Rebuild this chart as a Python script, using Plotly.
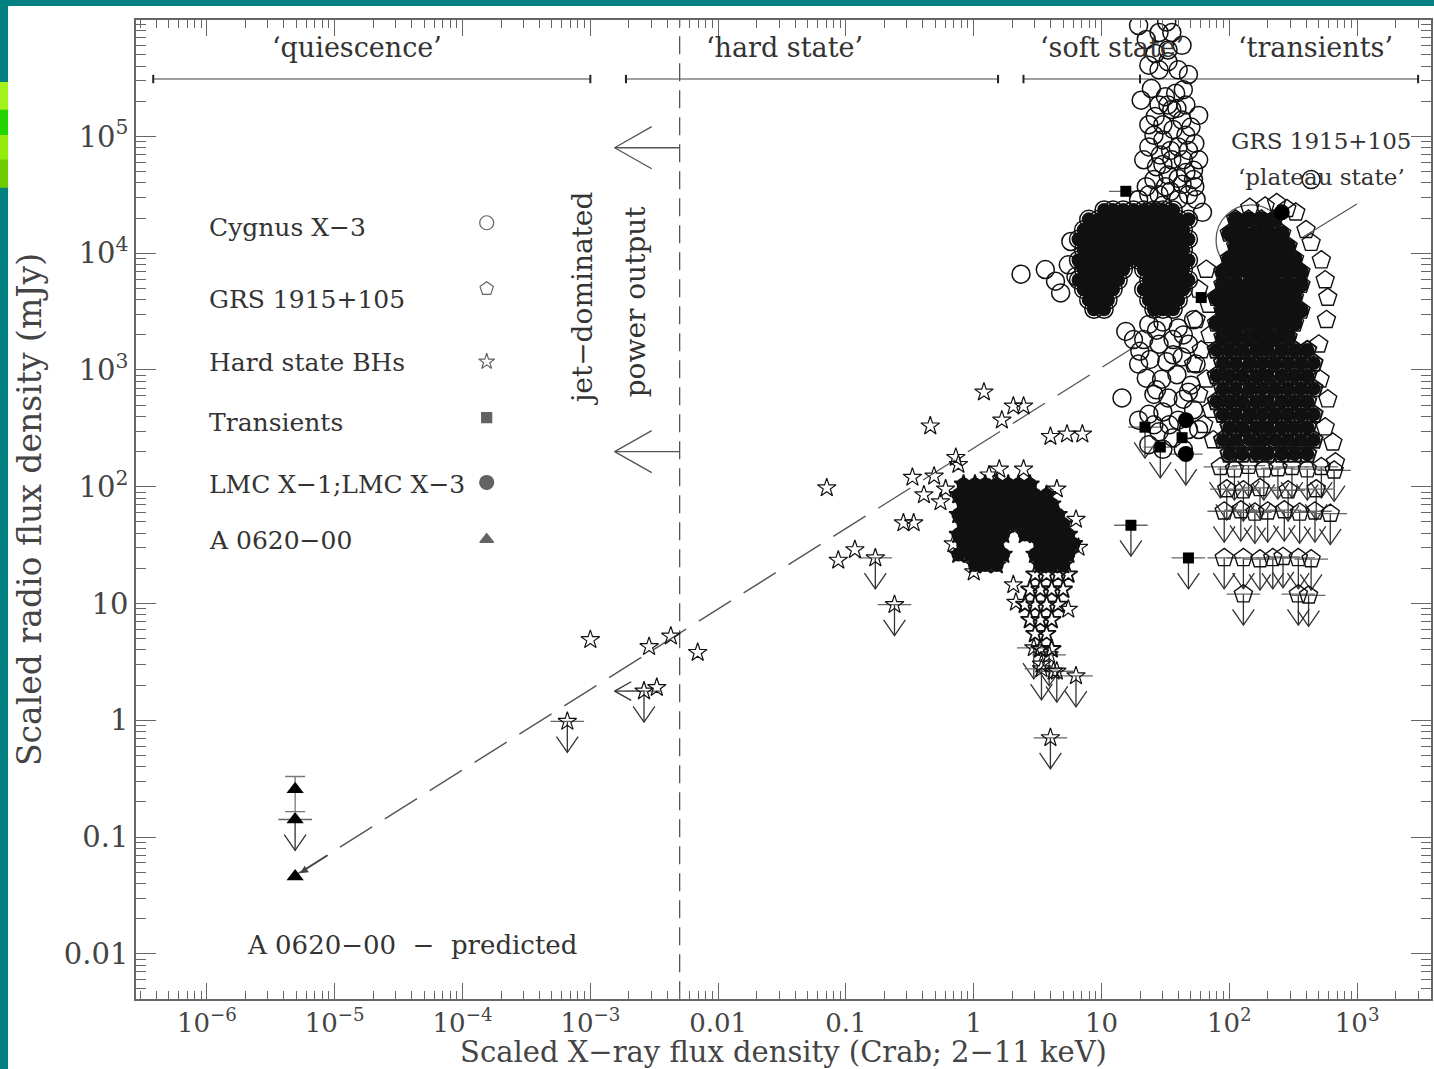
import numpy as np
import plotly.graph_objects as go

# ------------------------------------------------------------------
# DATA  (values stored as log10: X-ray flux [Crab], radio flux [mJy])
# ------------------------------------------------------------------
x_tick_vals = [1e-6, 1e-5, 1e-4, 1e-3, 0.01, 0.1, 1, 10, 100, 1000]
x_tick_text = ["10<sup>−6</sup>", "10<sup>−5</sup>", "10<sup>−4</sup>", "10<sup>−3</sup>",
               "0.01", "0.1", "1", "10", "10<sup>2</sup>", "10<sup>3</sup>"]
y_tick_vals = [0.01, 0.1, 1, 10, 100, 1e3, 1e4, 1e5, 1e6]
y_tick_text = ["0.01", "0.1", "1", "10", "10<sup>2</sup>", "10<sup>3</sup>",
               "10<sup>4</sup>", "10<sup>5</sup>", "10<sup>6</sup>"]

regime_names = ["‘quiescence’", "‘hard state’", "‘soft state’", "‘transients’"]
regime_lo = [3.8e-7, 1.9e-3, 2.45, 20.0]
regime_hi = [1.0e-3, 1.55, 20.0, 3000.0]
regime_level = 3.1e5
jet_boundary_x = 5e-3                    # vertical dashed line
jet_arrow_tip_x = 1.55e-3
jet_arrow_levels = [8.0e4, 2.0e2]

corr_x = [4.9e-6, 19.5]                  # L_radio ~ L_X^0.7 line
corr_y = [0.047, 1660.0]

# Cygnus X-3 (open circles): sparse points
cyg_sparse = [
    (0.37, 3.82), (0.56, 3.86), (0.64, 3.76), (0.68, 3.66), (1.19, 3.33), (1.16, 2.76),
    (1.30, 3.16), (1.25, 3.26), (2.64, 4.63), (0.74, 3.90), (0.76, 4.10), (0.80, 3.80),
    (1.29, 5.95), (1.51, 5.98), (1.45, 5.89), (1.55, 5.89), (1.42, 5.71), (1.52, 5.74),
    (1.45, 5.57), (1.60, 5.57), (1.39, 5.41), (1.50, 5.34), (1.58, 5.37), (1.64, 5.40),
    (1.45, 5.27), (1.52, 5.27), (1.59, 5.24), (1.42, 5.17), (1.55, 5.23), (1.63, 5.14),
    (1.48, 5.10), (1.37, 5.10), (1.70, 5.08), (1.56, 5.06), (1.48, 4.97), (1.37, 4.91),
    (1.60, 4.91), (1.73, 4.94), (1.68, 4.88), (1.46, 4.84), (1.55, 4.80), (1.64, 4.80),
    (1.43, 4.74), (1.52, 4.67), (1.66, 4.69), (1.72, 4.71), (1.41, 4.63), (1.63, 4.59),
    (1.35, 4.57), (1.50, 4.57), (1.73, 4.57), (1.45, 4.50), (1.68, 4.50), (1.60, 4.46),
    (1.79, 4.35),
    (1.35, 5.83), (1.63, 5.78), (1.37, 5.61), (1.52, 5.64), (1.68, 5.53), (1.31, 5.31),
    (1.66, 5.27), (1.76, 5.18), (1.41, 5.01), (1.66, 5.01), (1.54, 4.88), (1.33, 4.80),
    (1.76, 4.80), (1.48, 4.76), (1.60, 4.64), (1.72, 4.63), (1.37, 4.50), (1.54, 4.53),
    (1.74, 4.46), (1.48, 4.41), (1.29, 4.46),
    (1.37, 3.39), (1.48, 3.41), (1.60, 3.36), (1.72, 3.43), (1.33, 3.26), (1.45, 3.22),
    (1.56, 3.26), (1.68, 3.22), (1.38, 3.09), (1.51, 3.07), (1.63, 3.11), (1.74, 3.05),
    (1.35, 2.93), (1.47, 2.92), (1.59, 2.96), (1.70, 2.87), (1.41, 2.79), (1.52, 2.76),
    (1.64, 2.75), (1.37, 2.62), (1.48, 2.64), (1.60, 2.57), (1.72, 2.66), (1.45, 2.47),
    (1.56, 2.42), (1.68, 2.49), (1.37, 2.36), (1.48, 2.32),
    (1.43, 3.34), (1.64, 3.30), (1.29, 3.05), (1.56, 3.13), (1.43, 2.83), (1.68, 2.81),
    (1.53, 2.53), (1.41, 2.53), (1.64, 2.32), (1.76, 2.49), (1.29, 2.57),
]
# Cygnus X-3 dense 'hook' (log radio : list of log X-ray)
cyg_core_rows = {
    4.37: [1.02, 1.09, 1.17, 1.25, 1.33, 1.41, 1.48, 1.56],
    4.29: [0.90, 0.98, 1.05, 1.13, 1.21, 1.29, 1.37, 1.45, 1.52, 1.60, 1.68],
    4.20: [0.86, 0.94, 1.02, 1.09, 1.17, 1.25, 1.33, 1.41, 1.48, 1.56, 1.64],
    4.12: [0.82, 0.90, 0.98, 1.05, 1.13, 1.21, 1.29, 1.37, 1.45, 1.52, 1.60, 1.68],
    4.03: [0.86, 0.94, 1.02, 1.09, 1.17, 1.25, 1.33, 1.41, 1.48, 1.56, 1.64],
    3.94: [0.82, 0.90, 0.98, 1.05, 1.13, 1.21, 1.29, 1.37, 1.45, 1.52, 1.60, 1.68],
    3.86: [0.86, 0.94, 1.02, 1.09, 1.17, 1.33, 1.41, 1.48, 1.56, 1.64],
    3.77: [0.82, 0.90, 0.98, 1.05, 1.13, 1.37, 1.45, 1.52, 1.60, 1.68],
    3.69: [0.86, 0.94, 1.02, 1.09, 1.33, 1.41, 1.48, 1.56, 1.64],
    3.60: [0.90, 0.98, 1.05, 1.37, 1.45, 1.52, 1.60],
    3.52: [0.94, 1.02, 1.41, 1.48, 1.56],
}

# GRS 1915+105 (open pentagons)
grs_sparse = [
    (2.16, 4.39), (2.37, 4.43), (2.52, 4.35), (2.64, 4.09), (2.72, 3.94), (2.75, 3.77),
    (2.77, 3.62), (2.76, 3.43), (2.70, 3.22), (2.71, 2.92), (2.77, 2.75), (2.75, 2.51),
    (2.81, 2.38), (2.83, 2.21), (2.60, 4.20), (2.28, 4.40), (2.45, 4.38),
    (1.76, 3.69), (1.84, 3.56), (1.74, 3.43), (1.85, 3.30), (1.78, 3.17), (1.72, 3.05),
    (1.82, 2.92), (1.76, 2.79), (1.86, 2.66), (1.80, 2.53), (1.875, 2.40), (1.82, 3.86),
]
grs_core_rows = {
    4.29: [2.05, 2.15, 2.25, 2.35],
    4.17: [2.00, 2.10, 2.21, 2.30, 2.41],
    4.06: [2.05, 2.16, 2.26, 2.36, 2.46],
    3.95: [2.00, 2.10, 2.21, 2.30, 2.41, 2.51],
    3.84: [1.95, 2.05, 2.16, 2.26, 2.36, 2.46, 2.56],
    3.73: [1.95, 2.05, 2.16, 2.26, 2.36, 2.46, 2.56],
    3.62: [1.90, 2.00, 2.10, 2.21, 2.30, 2.41, 2.51],
    3.51: [1.95, 2.05, 2.16, 2.26, 2.36, 2.46, 2.56],
    3.40: [1.90, 2.00, 2.10, 2.21, 2.30, 2.41, 2.51],
    3.28: [1.95, 2.05, 2.16, 2.26, 2.36, 2.46],
}
grs_lower_rows = {
    3.17: [1.90, 2.00, 2.10, 2.21, 2.30, 2.41, 2.51, 2.61],
    3.06: [1.95, 2.05, 2.16, 2.26, 2.36, 2.46, 2.56, 2.66],
    2.95: [1.90, 2.00, 2.10, 2.21, 2.30, 2.41, 2.51, 2.61],
    2.84: [1.95, 2.05, 2.16, 2.26, 2.36, 2.46, 2.56, 2.66],
    2.73: [1.90, 2.00, 2.10, 2.21, 2.30, 2.41, 2.51, 2.61],
    2.62: [1.95, 2.05, 2.16, 2.26, 2.36, 2.46, 2.56, 2.66],
    2.51: [2.00, 2.10, 2.21, 2.30, 2.41, 2.51, 2.61],
    2.40: [1.95, 2.05, 2.16, 2.26, 2.36, 2.46, 2.56, 2.66],
    2.28: [2.00, 2.10, 2.21, 2.30, 2.41, 2.51, 2.61],
}
grs_upper = [
    (1.93, 2.17), (2.04, 2.15), (2.15, 2.18), (2.27, 2.15), (2.38, 2.16), (2.49, 2.17),
    (2.61, 2.15), (2.72, 2.17), (2.82, 2.14),
    (1.98, 1.98), (2.11, 1.97), (2.24, 1.99), (2.46, 1.97), (2.68, 1.98),
    (1.96, 1.79), (2.09, 1.80), (2.20, 1.78), (2.30, 1.79), (2.43, 1.80), (2.55, 1.78),
    (2.67, 1.79), (2.79, 1.77),
    (1.96, 1.39), (2.11, 1.39), (2.24, 1.38), (2.34, 1.39), (2.42, 1.40), (2.54, 1.39),
    (2.64, 1.38),
    (2.11, 1.08), (2.54, 1.08), (2.62, 1.07),
]

# Hard state black holes (open stars)
hard_sparse = [
    (-3.00, 0.69), (-2.54, 0.63), (-2.37, 0.72), (-2.16, 0.58), (-2.48, 0.28),
    (-1.15, 1.99), (-1.06, 1.37), (-0.93, 1.46),
    (-0.34, 2.52), (0.08, 2.81), (0.22, 2.57), (0.31, 2.69), (0.39, 2.69), (0.60, 2.43),
    (0.73, 2.45), (0.85, 2.45),
    (-0.48, 2.08), (-0.31, 2.09), (-0.26, 1.87), (-0.12, 2.19), (-0.55, 1.69), (-0.47, 1.69),
    (-0.14, 2.25), (-0.22, 1.98), (-0.39, 1.93),
    (0.39, 2.15), (0.65, 1.98), (0.80, 1.72), (0.82, 1.48), (-0.16, 1.51), (0.00, 1.27),
    (0.33, 1.01), (0.31, 1.16), (0.74, 0.95), (0.53, 0.48), (0.625, 0.42), (0.12, 2.10),
    (0.20, 2.15),
]
gx339_core_rows = {
    2.02: [-0.08, 0.01, 0.09, 0.18, 0.27, 0.35, 0.44],
    1.93: [-0.12, -0.03, 0.05, 0.14, 0.23, 0.31, 0.40, 0.48, 0.57],
    1.85: [-0.08, 0.01, 0.09, 0.18, 0.27, 0.35, 0.44, 0.52, 0.61],
    1.76: [-0.12, -0.03, 0.05, 0.14, 0.23, 0.31, 0.40, 0.48, 0.57, 0.66],
    1.68: [-0.08, 0.01, 0.09, 0.18, 0.27, 0.35, 0.44, 0.52, 0.61, 0.70],
    1.59: [-0.12, -0.03, 0.05, 0.14, 0.23, 0.40, 0.48, 0.57, 0.66, 0.74],
    1.51: [-0.08, 0.01, 0.09, 0.18, 0.52, 0.61, 0.70, 0.78],
    1.42: [-0.12, -0.03, 0.05, 0.14, 0.23, 0.48, 0.57, 0.66, 0.74],
    1.33: [0.01, 0.09, 0.18, 0.52, 0.61, 0.70],
}
gx339_tail_rows = {
    1.25: [0.48, 0.57, 0.66, 0.74],
    1.12: [0.44, 0.52, 0.61, 0.70],
    0.99: [0.40, 0.48, 0.57, 0.66],
    0.86: [0.44, 0.52, 0.61],
    0.74: [0.48, 0.57],
    0.61: [0.52, 0.61],
}
hard_upper = [(-3.18, -0.01), (-2.58, 0.25), (-0.77, 1.39), (-0.62, 0.99), (0.80, 0.38),
              (0.60, -0.15), (0.47, 0.62), (0.59, 0.56), (0.53, 0.44), (0.65, 0.42)]
hard_left_limit = [(-2.58, 0.25)]

# Transients (filled squares)
trans_det = [(1.19, 4.53), (1.78, 3.62), (1.63, 2.42)]
trans_upper = [(1.34, 2.51), (1.46, 2.34), (1.23, 1.67), (1.68, 1.39)]

# LMC X-1 ; LMC X-3 (filled circles)
lmc_det = [(1.66, 2.57), (2.41, 4.35)]
lmc_upper = [(1.66, 2.28)]

# A 0620-00 (filled triangles)
a0620_x = [4.9e-6]
a0620_y = [0.257]
a0620_y_hi = [0.33]
a0620_y_lo = [0.165]
a0620_upper = [(-5.31, -0.85)]
a0620_predicted_x = [4.9e-6]
a0620_predicted_y = [0.046]

# GRS 1915+105 'plateau state' marker
plateau_x = [148.0]
plateau_y = [1.3e4]

legend_names = ["Cygnus X−3", "GRS 1915+105", "Hard state BHs", "Transients",
                "LMC X−1;LMC X−3", "A 0620−00"]
legend_symbols = ["circle-open", "pentagon-open", "star-open", "square", "circle", "triangle-up"]
legend_sizes = [14, 14, 12, 10, 14, 12]

# ------------------------------------------------------------------
INK = "#111111"
GREY = "#555555"
TXT = "#333333"
FONT = "DejaVu Serif"


def unzip(points):
    return [p[0] for p in points], [p[1] for p in points]


def rows(rowdict):
    xs, ys = [], []
    for ly, lxs in rowdict.items():
        for lx in lxs:
            xs.append(lx)
            ys.append(ly)
    return xs, ys


def lin(seq):
    return [None if v is None else 10 ** v for v in seq]


STEM, HEAD_DX, HEAD_DY = 0.265, 0.085, 0.135


def ul_paths(points):
    xs, ys = [], []
    for lx, ly in points:
        tip = ly - STEM
        xs += [lx, lx, None, lx - HEAD_DX, lx, lx + HEAD_DX, None]
        ys += [ly, tip, None, tip + HEAD_DY, tip, tip + HEAD_DY, None]
    return xs, ys


def left_arrow_paths(points, length, hdx, hdy):
    xs, ys = [], []
    for lx, ly in points:
        tip = lx - length
        xs += [lx, tip, None, tip + hdx, tip, tip + hdx, None]
        ys += [ly, ly, None, ly + hdy, ly, ly - hdy, None]
    return xs, ys


def saturated(xs, ys, size):
    # overlap saturation of a dense cloud: same points, solid ink
    return go.Scatter(x=lin(xs), y=lin(ys), mode="markers", hoverinfo="skip",
                      marker=dict(symbol="circle", size=size, color=INK, line=dict(width=0)))


fig = go.Figure()

for lo, hi in zip(regime_lo, regime_hi):
    fig.add_trace(go.Scatter(x=[lo, hi], y=[regime_level, regime_level], mode="lines+markers",
                             line=dict(color="#a0a0a0", width=2),
                             marker=dict(symbol="line-ns", size=6, line=dict(color="#222", width=2)),
                             hoverinfo="skip"))

fig.add_trace(go.Scatter(x=[jet_boundary_x, jet_boundary_x], y=[10 ** -2.39, 10 ** 6.0],
                         mode="lines", line=dict(color=GREY, width=1.3, dash="18px,9px"),
                         hoverinfo="skip"))

jx, jy = [], []
tipL = np.log10(jet_arrow_tip_x)
bx = np.log10(jet_boundary_x)
for lev in jet_arrow_levels:
    ly = np.log10(lev)
    jx += [bx, tipL, None, tipL + 0.29, tipL, tipL + 0.29, None]
    jy += [ly, ly, None, ly + 0.18, ly, ly - 0.18, None]
fig.add_trace(go.Scatter(x=lin(jx), y=lin(jy), mode="lines",
                         line=dict(color=GREY, width=1.4), hoverinfo="skip"))

fig.add_trace(go.Scatter(x=corr_x, y=corr_y, mode="lines",
                         line=dict(color=GREY, width=1.4, dash="38px,15px"), hoverinfo="skip"))

all_ul = grs_upper + hard_upper + trans_upper + lmc_upper + a0620_upper
ux, uy = ul_paths(all_ul)
lx_, ly_ = left_arrow_paths(hard_left_limit, 0.23, 0.13, 0.08)
fig.add_trace(go.Scatter(x=lin(ux + lx_), y=lin(uy + ly_), mode="lines",
                         line=dict(color="#333", width=1.3), hoverinfo="skip"))
cbx, cby = unzip(all_ul + [trans_det[0]])
fig.add_trace(go.Scatter(x=lin(cbx), y=lin(cby), mode="markers",
                         marker=dict(symbol="line-ew", size=24, line=dict(color="#666", width=1.3)),
                         hoverinfo="skip"))

fig.add_trace(go.Scatter(x=plateau_x, y=plateau_y, mode="markers",
                         marker=dict(symbol="circle-open", size=70, color=GREY,
                                     line=dict(color=GREY, width=1.3)), hoverinfo="skip"))

# Cygnus X-3
cx1, cy1 = unzip(cyg_sparse)
cx2, cy2 = rows(cyg_core_rows)
fig.add_trace(saturated(cx2, cy2, 14))
fig.add_trace(go.Scatter(x=lin(cx1 + cx2), y=lin(cy1 + cy2), mode="markers",
                         marker=dict(symbol="circle-open", size=18, color=INK,
                                     line=dict(color=INK, width=1.5)), hoverinfo="skip"))

# GRS 1915+105
gx1, gy1 = unzip(grs_sparse)
gx2, gy2 = rows(grs_core_rows)
gx4, gy4 = rows(grs_lower_rows)
gx3, gy3 = unzip(grs_upper)
fig.add_trace(saturated(gx2, gy2, 16))
fig.add_trace(saturated(gx4, gy4, 14))
fig.add_trace(go.Scatter(x=lin(gx1 + gx2 + gx4 + gx3), y=lin(gy1 + gy2 + gy4 + gy3),
                         mode="markers",
                         marker=dict(symbol="pentagon-open", size=19, color=INK,
                                     line=dict(color=INK,
                                               width=[1.4] * len(gx1) + [1.4] * len(gx2)
                                               + [1.9] * len(gx4) + [1.4] * len(gx3))),
                         hoverinfo="skip"))

# Hard state BHs
hx1, hy1 = unzip(hard_sparse)
hx2, hy2 = rows(gx339_core_rows)
hx3, hy3 = rows(gx339_tail_rows)
hx4, hy4 = unzip(hard_upper)
fig.add_trace(saturated(hx2, hy2, 14))
fig.add_trace(go.Scatter(x=lin(hx1 + hx2 + hx3 + hx4), y=lin(hy1 + hy2 + hy3 + hy4),
                         mode="markers",
                         marker=dict(symbol="star-open", size=14, color=INK,
                                     line=dict(color=INK,
                                               width=[1.2] * len(hx1) + [1.6] * len(hx2)
                                               + [1.8] * len(hx3) + [1.2] * len(hx4))),
                         hoverinfo="skip"))

tx, ty = unzip(trans_det + trans_upper)
fig.add_trace(go.Scatter(x=lin(tx), y=lin(ty), mode="markers",
                         marker=dict(symbol="square", size=11, color="black"), hoverinfo="skip"))

mx, my = unzip(lmc_det + lmc_upper)
fig.add_trace(go.Scatter(x=lin(mx), y=lin(my), mode="markers",
                         marker=dict(symbol="circle", size=16, color="black"), hoverinfo="skip"))

fig.add_trace(go.Scatter(x=a0620_x, y=a0620_y, mode="markers",
                         error_y=dict(type="data", symmetric=False,
                                      array=[h - v for h, v in zip(a0620_y_hi, a0620_y)],
                                      arrayminus=[v - l for l, v in zip(a0620_y_lo, a0620_y)],
                                      color="#777", thickness=1.3, width=10),
                         marker=dict(symbol="triangle-up", size=15, color="black"), hoverinfo="skip"))
ax_, ay_ = unzip(a0620_upper)
fig.add_trace(go.Scatter(x=lin(ax_) + a0620_predicted_x, y=lin(ay_) + a0620_predicted_y,
                         mode="markers", marker=dict(symbol="triangle-up", size=15, color="black"),
                         hoverinfo="skip"))

leg_x_pos = 0.2708
leg_y_pos = [0.7929, 0.7255, 0.6510, 0.5939, 0.5276, 0.4694]
fig.add_trace(go.Scatter(x=[leg_x_pos] * len(leg_y_pos), y=leg_y_pos, mode="markers",
                         xaxis="x2", yaxis="y2",
                         marker=dict(symbol=legend_symbols, size=legend_sizes, color="#222",
                                     line=dict(color="#222", width=1.2)), hoverinfo="skip"))

# ------------------------------------------------------------------
def note(text, x, y, size, xanchor="center", angle=0):
    return dict(text=text, x=x, y=y, xref="paper", yref="paper", xanchor=xanchor,
                yanchor="middle", textangle=angle, showarrow=False,
                font=dict(size=size, color=TXT, family=FONT))


ann = []
region_label_x = [0.1705, 0.5008, 0.7539, 0.9105]
for name, px in zip(regime_names, region_label_x):
    ann.append(note(name, px, 0.9714, 27))
ann.append(note("GRS 1915+105", 0.9151, 0.8765, 23))
ann.append(note("‘plateau state’", 0.9151, 0.8398, 23))
ann.append(note("jet−dominated", 0.3449, 0.7153, 28, angle=-90))
ann.append(note("power output", 0.3858, 0.7122, 28, angle=-90))
ann.append(note("A 0620−00  −  predicted", 0.2130, 0.0551, 26))
leg_text_y = [0.7878, 0.7143, 0.6500, 0.5888, 0.5255, 0.4684]
for name, yy in zip(legend_names, leg_text_y):
    ann.append(note(name, 0.0548, yy, 25, xanchor="left"))
ann.append(dict(text="", x=2.58, y=4.14, xref="x", yref="y", axref="x", ayref="y",
                ax=3.01, ay=4.43, showarrow=True, arrowhead=0, arrowwidth=1.2, arrowcolor=GREY))
ann.append(dict(text="", x=np.log10(a0620_predicted_x[0]), y=np.log10(a0620_predicted_y[0]),
                xref="x", yref="y", ax=34, ay=-22, showarrow=True, arrowhead=2, arrowsize=1.2,
                arrowwidth=1.3, standoff=6, arrowcolor="#444"))

shapes = [
    dict(type="rect", xref="paper", yref="paper", x0=-0.11, x1=-0.0988, y0=-0.08, y1=1.03,
         fillcolor="#008080", line=dict(width=0), layer="above"),
    dict(type="rect", xref="paper", yref="paper", x0=-0.11, x1=1.01, y0=1.0143, y1=1.03,
         fillcolor="#008080", line=dict(width=0), layer="above"),
]
for (y0, y1, col) in [(0.9082, 0.9367, "#a6f21c"), (0.8827, 0.9082, "#22d400"),
                      (0.8571, 0.8827, "#96ea0c"), (0.8286, 0.8571, "#6fcc00")]:
    shapes.append(dict(type="rect", xref="paper", yref="paper", x0=-0.11, x1=-0.0988,
                       y0=y0, y1=y1, fillcolor=col, line=dict(width=0), layer="above"))

axis_common = dict(type="log", ticks="inside", tickwidth=1.2, tickcolor="#666", showline=True,
                   linecolor="#666", linewidth=1.5, mirror="ticks", showgrid=False, zeroline=False)

fig.update_layout(
    width=1434, height=1069,
    margin=dict(l=136, r=1, t=20, b=69),
    paper_bgcolor="white", plot_bgcolor="white",
    showlegend=False, hovermode=False,
    font=dict(family=FONT, color=TXT),
    xaxis=dict(**axis_common, range=[-6.555, 3.578], tickmode="array", tickvals=x_tick_vals,
               ticktext=x_tick_text, ticklen=16,
               tickfont=dict(size=26, color="#444", family=FONT),
               minor=dict(ticks="inside", ticklen=8, tickcolor="#666", tickwidth=1, dtick="D1",
                          showgrid=False),
               title=dict(text="Scaled X−ray flux density (Crab; 2−11 keV)",
                          font=dict(size=29, color="#444", family=FONT), standoff=10)),
    yaxis=dict(**axis_common, range=[-2.387, 5.997], tickmode="array", tickvals=y_tick_vals,
               ticktext=y_tick_text, ticklen=20,
               tickfont=dict(size=29, color="#444", family=FONT),
               minor=dict(ticks="inside", ticklen=10, tickcolor="#666", tickwidth=1, dtick="D1",
                          showgrid=False),
               title=dict(text="Scaled radio flux density (mJy)",
                          font=dict(size=33, color="#444", family=FONT), standoff=12)),
    xaxis2=dict(overlaying="x", anchor="y2", range=[0, 1], visible=False),
    yaxis2=dict(overlaying="y", anchor="x2", range=[0, 1], visible=False),
    annotations=ann,
    shapes=shapes,
)

fig.write_html("out.html")
